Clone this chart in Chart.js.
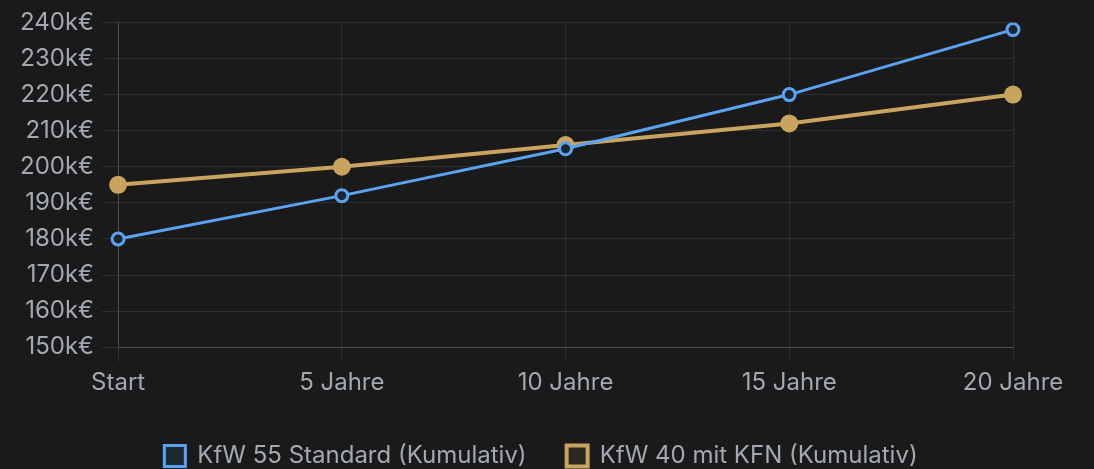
<!DOCTYPE html>
<html>
<head>
<meta charset="utf-8">
<script src="https://cdn.jsdelivr.net/npm/chart.js@4"></script>
<style>
  html, body { margin: 0; padding: 0; background: #1a1a1a; }
  #wrap { width: 1094px; height: 469px; position: relative; }
</style>
</head>
<body>
<div id="wrap"><canvas id="myChart"></canvas></div>
<script>
const labels = ["Start", "5 Jahre", "10 Jahre", "15 Jahre", "20 Jahre"];
const kfw55 = [180, 192, 205, 220, 238];
const kfw40 = [195, 200, 206, 212, 220];

const blue = "#5aa2f2";
const gold = "#c9a45e";
const tickColor = "#a3a9b2";
const gridColor = "rgba(255, 255, 255, 0.09)";

Chart.defaults.font.family = "Inter, 'Noto Sans', sans-serif";
Chart.defaults.font.size = 24;
Chart.defaults.color = tickColor;

// legend sits lower than its padding would allow, so shrink its box
const legendHeight = {
  id: "legendHeight",
  beforeInit(chart) {
    const origFit = chart.legend.fit;
    chart.legend.fit = function () {
      origFit.call(this);
      this.height = 65;
    };
  },
};

const ctx = document.getElementById("myChart").getContext("2d");
new Chart(ctx, {
  type: "line",
  data: {
    labels: labels,
    datasets: [
      {
        label: "KfW 55 Standard (Kumulativ)",
        data: kfw55,
        borderColor: blue,
        backgroundColor: "rgba(90, 162, 242, 0.1)",
        borderWidth: 3,
        pointRadius: 6,
        pointBorderWidth: 3,
        pointBackgroundColor: "#1c2633",
        pointBorderColor: blue,
        tension: 0,
      },
      {
        label: "KfW 40 mit KFN (Kumulativ)",
        data: kfw40,
        borderColor: gold,
        backgroundColor: "rgba(201, 164, 94, 0.1)",
        borderWidth: 4,
        pointRadius: 9,
        pointBorderWidth: 0,
        pointBackgroundColor: gold,
        pointBorderColor: gold,
        tension: 0,
      },
    ],
  },
  options: {
    responsive: true,
    maintainAspectRatio: false,
    animation: false,
    layout: { padding: { top: 8, right: 24, left: 12, bottom: 0 } },
    plugins: {
      legend: {
        position: "bottom",
        labels: { boxWidth: 21, boxHeight: 21, padding: 40, color: tickColor },
      },
      tooltip: { enabled: false },
    },
    scales: {
      x: {
        grid: { color: gridColor, tickLength: 15 },
        border: { color: "rgba(255, 255, 255, 0.15)" },
        ticks: { color: tickColor, padding: 6 },
        afterFit: function (axis) {
          axis.height += 1;
          axis.paddingRight = 81;
        },
      },
      y: {
        min: 150,
        max: 240,
        grid: { color: gridColor, tickLength: 16 },
        border: { color: "rgba(255, 255, 255, 0.15)" },
        ticks: {
          stepSize: 10,
          color: tickColor,
          padding: 8,
          callback: function (value) {
            return value + "k€";
          },
        },
      },
    },
  },
  plugins: [legendHeight],
});
</script>
</body>
</html>
